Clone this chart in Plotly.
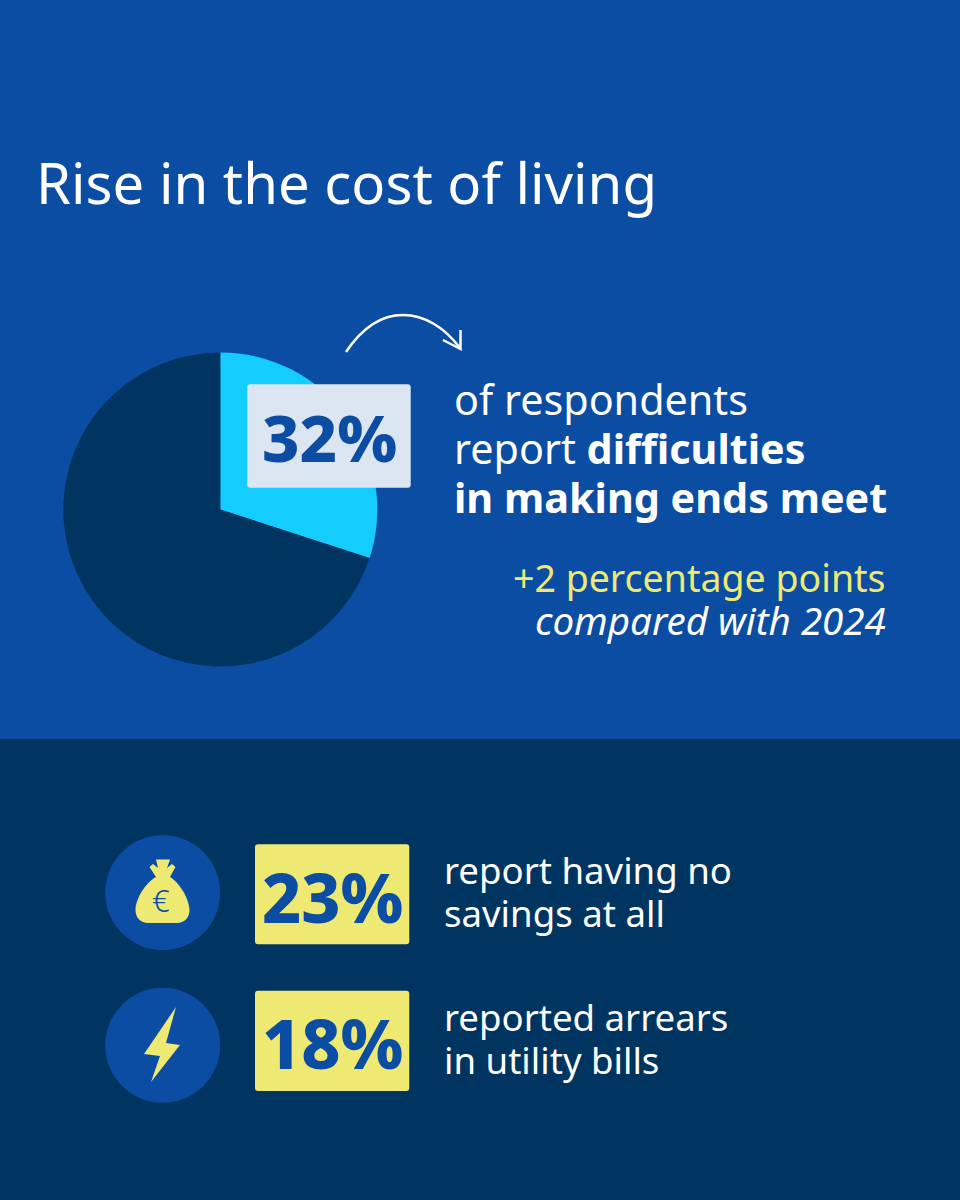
import plotly.graph_objects as go

FONT = "Noto Sans"
BLUE = "#0B4DA2"
NAVY = "#003461"
CYAN = "#15CCFF"
PALE = "#DCE6F3"
YELLOW = "#EEE972"
WHITE = "#FFFFFF"

# the wedge in the source is drawn at about 30 % although its label says 32 %
pie_labels = ["difficulties", "other"]
pie_values = [30, 70]
pie_colors = [CYAN, NAVY]

title = "Rise in the cost of living"
main_value = "32%"
main_lines = ["of respondents", "report <b>difficulties</b>", "<b>in making ends meet</b>"]
change_text = "+2 percentage points"
change_note = "<i>compared with 2024</i>"
stat_values = ["23%", "18%"]
stat_lines = [["report having no", "savings at all"], ["reported arrears", "in utility bills"]]

fig = go.Figure()

# empty trace so the pixel-like axes exist
fig.add_trace(go.Scatter(x=[], y=[], hoverinfo="skip", showlegend=False))

fig.add_trace(go.Pie(
    labels=pie_labels,
    values=pie_values,
    sort=False,
    direction="clockwise",
    rotation=0,
    marker=dict(colors=pie_colors, line=dict(width=0)),
    textinfo="none",
    hoverinfo="label+value",
    showlegend=False,
    domain=dict(x=[63.3 / 960, 377.3 / 960], y=[1 - 666.7 / 1200, 1 - 352.3 / 1200]),
))


def rounded(x0, y0, x1, y1, r=3):
    return (f"M {x0+r} {y0} L {x1-r} {y0} Q {x1} {y0} {x1} {y0+r} L {x1} {y1-r} Q {x1} {y1} {x1-r} {y1} "
            f"L {x0+r} {y1} Q {x0} {y1} {x0} {y1-r} L {x0} {y0+r} Q {x0} {y0} {x0+r} {y0} Z")


# backgrounds
fig.add_shape(type="rect", x0=0, x1=960, y0=0, y1=739, fillcolor=BLUE, line_width=0, layer="below")
fig.add_shape(type="rect", x0=0, x1=960, y0=739, y1=1200, fillcolor=NAVY, line_width=0, layer="below")

# label box over the pie
fig.add_shape(type="path", path=rounded(247.3, 384.3, 410.7, 487.7), fillcolor=PALE, line_width=0, layer="above")

# curved arrow
fig.add_shape(type="path", path="M 346 352 C 366 322 386 315 403 315 C 425 315 445 328 460 348",
              line=dict(color=WHITE, width=2.5), layer="above")
fig.add_shape(type="path", path="M 443 340 L 460.5 349 L 460.5 330",
              line=dict(color=WHITE, width=2.5), layer="above")

# icon discs and stat boxes
for cy, y0, y1 in [(892.7, 844.3, 944.3), (1045.3, 990.7, 1091)]:
    fig.add_shape(type="circle", x0=105.2, x1=220.2, y0=cy - 57.5, y1=cy + 57.5,
                  fillcolor=BLUE, line_width=0, layer="above")
    fig.add_shape(type="path", path=rounded(255, y0, 409.3, y1), fillcolor=YELLOW, line_width=0, layer="above")

# money bag
fig.add_shape(type="path", layer="above", fillcolor=YELLOW, line_width=0,
              path="M 156 859.5 L 170 859.5 L 167 868 L 172 864 L 175.5 867 L 170 877 "
                   "C 179 882 189.5 899 189.5 910 C 189.5 918 184 923 177 923 L 148 923 "
                   "C 141 923 135.5 918 135.5 910 C 135.5 899 146 882 156 877 L 149.5 867 "
                   "L 153 864 L 158 868 Z")
# lightning bolt
fig.add_shape(type="path", layer="above", fillcolor=YELLOW, line_width=0,
              path="M 176 1007 L 144 1054 L 160 1056 L 151 1082 L 180 1045 L 166 1043 Z")

# money bag euro sign
fig.add_annotation(x=161, y=900, text="€", showarrow=False, font=dict(family=FONT, size=31, color=BLUE, weight=300))


def label(x, y, text, size, color=WHITE, anchor="left", weight=None):
    font = dict(family=FONT, size=size, color=color)
    if weight:
        font["weight"] = weight
    fig.add_annotation(x=x, y=y, text=text, showarrow=False, xanchor=anchor, yanchor="middle", font=font, borderpad=0)


label(35, 182, title, 56.3)
label(329, 437, main_value, 65, BLUE, "center", 800)
for y, line in zip([399, 448, 497], main_lines):
    label(453, y, line, 41.3)
label(887, 577, change_text, 37.5, YELLOW, "right")
label(887, 620, change_note, 38.5, WHITE, "right")

for i, y in enumerate([896, 1042]):
    label(332, y, stat_values[i], 68, BLUE, "center", 800)
for ys, lines in zip([(870, 913), (1017, 1060)], stat_lines):
    for y, line in zip(ys, lines):
        label(443, y, line, 36.6)

fig.update_layout(
    width=960,
    height=1200,
    margin=dict(l=0, r=0, t=0, b=0),
    paper_bgcolor=BLUE,
    plot_bgcolor=BLUE,
    xaxis=dict(range=[0, 960], visible=False, fixedrange=True),
    yaxis=dict(range=[1200, 0], visible=False, fixedrange=True),
)

fig.write_html("out.html", config=dict(displayModeBar=False),
               post_script="document.body.style.margin='0';document.body.style.overflow='hidden';")
